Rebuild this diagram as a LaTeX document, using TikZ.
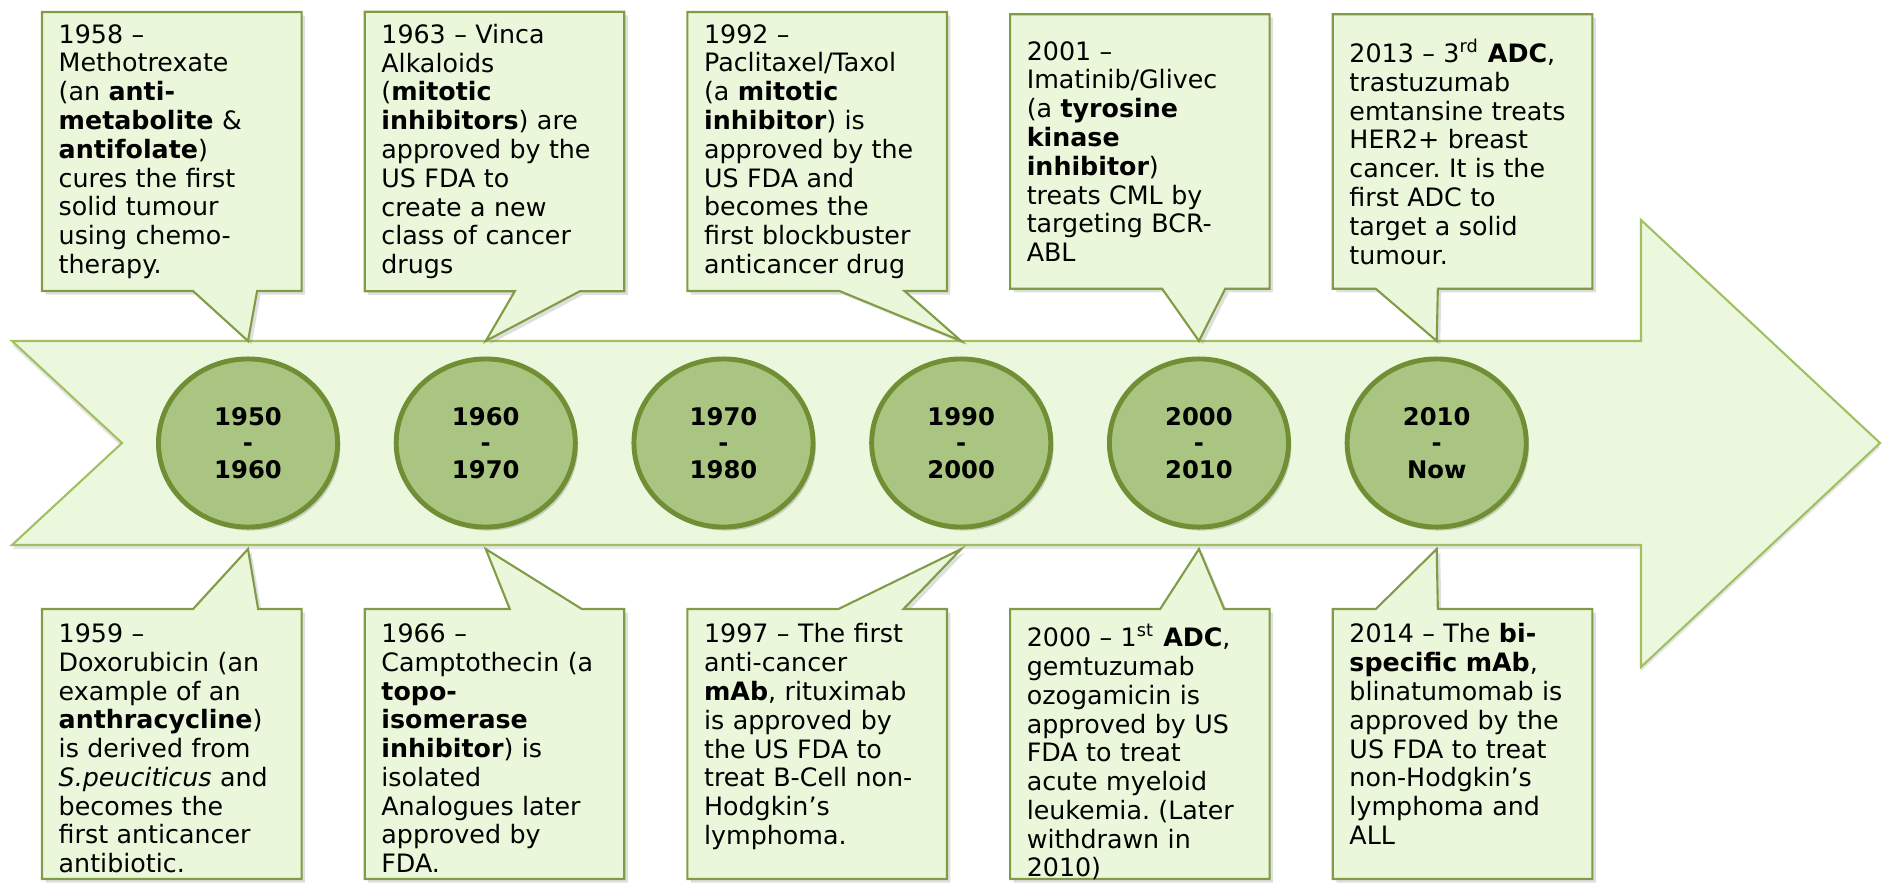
\documentclass[tikz,border=0pt]{standalone}
\usepackage{fontspec}
\setmainfont{DejaVu Sans}
\usepackage{tikz}
\usetikzlibrary{shapes.geometric,shadows,backgrounds,positioning}
\definecolor{bandfill}{RGB}{236,248,222}
\definecolor{bandline}{RGB}{160,192,98}
\definecolor{notefill}{RGB}{235,247,218}
\definecolor{noteline}{RGB}{128,156,70}
\definecolor{decadefill}{RGB}{170,197,130}
\definecolor{decadeline}{RGB}{112,142,52}
\frenchspacing

\begin{document}
\begin{tikzpicture}[x=0.01cm, y=-0.01cm, node distance=2.376cm,
    decade/.style={ellipse, draw=decadeline, line width=1.4pt, fill=decadefill,
      minimum width=1.79cm, minimum height=1.68cm, inner sep=0pt, align=center,
      font=\bfseries\fontsize{6.9pt}{7.6pt}\selectfont,
      drop shadow={opacity=0.35, shadow xshift=0.8pt, shadow yshift=-1pt}},
    event/.style={text width=2.26cm, inner xsep=0.16cm, align=left,
      font=\fontsize{7.2pt}{8.18pt}\selectfont},
    eventbox/.style={draw=noteline, line width=0.6pt, fill=notefill,
      drop shadow={opacity=0.25, shadow xshift=1pt, shadow yshift=-1pt}},
    band/.style={draw=bandline, line width=0.6pt, fill=bandfill,
      drop shadow={opacity=0.2, shadow xshift=0pt, shadow yshift=-1.2pt}}]
        \useasboundingbox (0,0) rectangle (1883,882);
        \coordinate (bt) at (0,341);
        \coordinate (bb) at (0,549);
        \coordinate (btop) at (0,609);
        \coordinate (pagebot) at (0,879);

        % decades on the arrow
        \node[decade] (c1) at (248,443) {1950\\-\\1960};
        \node[decade,right of=c1] (c2) {1960\\-\\1970};
        \node[decade,right of=c2] (c3) {1970\\-\\1980};
        \node[decade,right of=c3] (c4) {1990\\-\\2000};
        \node[decade,right of=c4] (c5) {2000\\-\\2010};
        \node[decade,right of=c5] (c6) {2010\\-\\Now};

        % events above
        \node[event,minimum height=2.73cm,anchor=north west] (n1) at (42,12) {1958 –\\Methotrexate\\(an \textbf{anti-}\\\textbf{metabolite} \&\\\textbf{antifolate})\\cures the first\\solid tumour\\using chemo-\\therapy.};
        \node[event,minimum height=2.73cm,right of=n1,node distance=3.225cm] (n2) {1963 – Vinca\\Alkaloids\\(\textbf{mitotic}\\\textbf{inhibitors}) are\\approved by the\\US FDA to\\create a new\\class of cancer\\drugs};
        \node[event,minimum height=2.73cm,right of=n2,node distance=3.225cm] (n3) {1992 –\\Paclitaxel/Taxol\\(a \textbf{mitotic}\\\textbf{inhibitor}) is\\approved by the\\US FDA and\\becomes the\\first blockbuster\\anticancer drug};
        \node[event,minimum height=2.73cm,right of=n3,node distance=3.225cm] (n4) {2001 –\\Imatinib/Glivec\\(a \textbf{tyrosine}\\\textbf{kinase}\\\textbf{inhibitor})\\treats CML by\\targeting BCR-\\ABL};
        \node[event,minimum height=2.73cm,right of=n4,node distance=3.225cm] (n5) {2013 – 3\textsuperscript{rd} \textbf{ADC},\\trastuzumab\\emtansine treats\\HER2+ breast\\cancer. It is the\\first ADC to\\target a solid\\tumour.};

        % events below
        \node[event,inner ysep=0.14cm,anchor=north] (m1) at (n1 |- btop) {1959 –\\Doxorubicin (an\\example of an\\\textbf{anthracycline})\\is derived from\\\textit{S.peuciticus} and\\becomes the\\first anticancer\\antibiotic.};
        \node[event,inner ysep=0.14cm,anchor=north] (m2) at (n2 |- btop) {1966 –\\Camptothecin (a\\\textbf{topo-}\\\textbf{isomerase}\\\textbf{inhibitor}) is\\isolated\\Analogues later\\approved by\\FDA.};
        \node[event,inner ysep=0.14cm,anchor=north] (m3) at (n3 |- btop) {1997 – The first\\anti-cancer\\\textbf{mAb}, rituximab\\is approved by\\the US FDA to\\treat B-Cell non-\\Hodgkin’s\\lymphoma.};
        \node[event,inner ysep=0.14cm,anchor=north] (m4) at (n4 |- btop) {2000 – 1\textsuperscript{st} \textbf{ADC},\\gemtuzumab\\ozogamicin is\\approved by US\\FDA to treat\\acute myeloid\\leukemia. (Later\\withdrawn in\\2010)};
        \node[event,inner ysep=0.14cm,anchor=north] (m5) at (n5 |- btop) {2014 – The \textbf{bi-}\\\textbf{specific mAb},\\blinatumomab is\\approved by the\\US FDA to treat\\non-Hodgkin’s\\lymphoma and\\ALL};

        \begin{pgfonlayer}{background}
          \draw[band] (12,341) -- (1641,341) -- (1641,220) -- (1880,443) -- (1641,667)
            -- (1641,545) -- (12,545) -- (122,443) -- cycle;
          % speech bubbles pointing at the decades
          \foreach \n/\c/\a/\b in {n1/c1/1.51/2.15, n2/c2/1.5/2.15, n3/c4/1.52/2.17, n4/c5/1.52/2.15, n5/c6/0.43/1.05}
            \draw[eventbox] (\n.north west) -- (\n.north east) -- (\n.south east)
              -- ([xshift=\b cm]\n.south west) -- (\c |- bt) -- ([xshift=\a cm]\n.south west)
              -- (\n.south west) -- cycle;
          \foreach \m/\c/\a/\b in {m1/c1/1.51/2.16, m2/c2/1.45/2.17, m3/c4/1.51/2.16, m4/c5/1.5/2.14, m5/c6/0.43/1.05}
            \draw[eventbox] (\m.north west) -- ([xshift=\a cm]\m.north west) -- (\c |- bb)
              -- ([xshift=\b cm]\m.north west) -- (\m.north east) -- (\m.north east |- pagebot)
              -- (\m.north west |- pagebot) -- cycle;
        \end{pgfonlayer}
      \end{tikzpicture}
\end{document}
